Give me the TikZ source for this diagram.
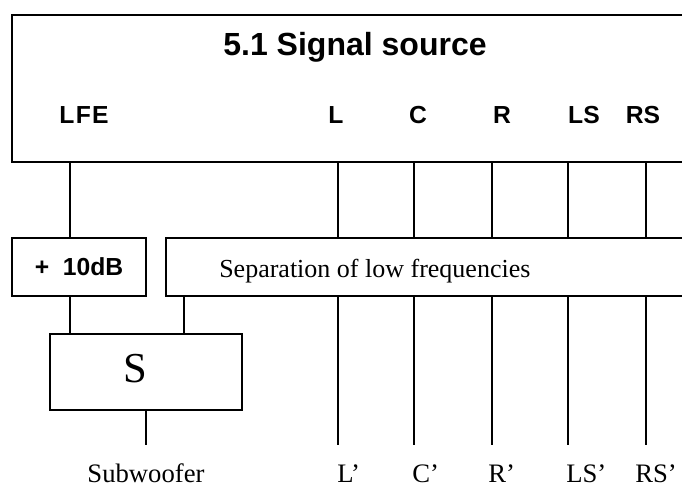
\documentclass[tikz,border=0pt]{standalone}
\usepackage{fontspec}
\setmainfont{Liberation Serif}
\newfontfamily\arialfont{Liberation Sans}
\usepackage{tikz}
\usetikzlibrary{positioning,calc}

\begin{document}
\begin{tikzpicture}[
  x=0.75pt, y=-0.75pt,
  blk/.style={draw=black, line width=1.2pt, inner sep=0pt, outer sep=0pt, rectangle},
  wire/.style={draw=black, line width=0.8pt},
  ttl/.style={font=\arialfont\bfseries\fontsize{24}{28}\selectfont, anchor=base},
  chn/.style={font=\arialfont\bfseries\fontsize{18.5}{22}\selectfont, anchor=base},
  txt/.style={font=\fontsize{20}{24}\selectfont, inner sep=0pt},
  outlbl/.style={txt, anchor=base west},
]
\useasboundingbox (0,0) rectangle (682,486);
\clip (0,0) rectangle (682,486);

% boxes
\node[blk, minimum width=516pt, minimum height=110.25pt] (src) at (356,88.5) {};
\node[blk, minimum width=100.5pt, minimum height=43.5pt, font=\arialfont\bfseries\fontsize{18.5}{22}\selectfont] (gain) at (79,267) {+\ \ 10dB};
\node[blk, minimum width=400.5pt, minimum height=43.5pt] (sep) at (433,267) {};
\node[blk, minimum width=144pt, minimum height=57pt] (sum) at (146,372) {};

% texts
\node[ttl] (title) at (355,55) {5.1 Signal source};
\node[chn] (lfe) at (84,123) {L\kern1pt F\kern1pt E};
\node[chn] (inL) at (336,123) {L};
\node[chn] (inC) at (418,123) {C};
\node[chn] (inR) at (502,123) {R};
\node[chn] (inLS) at (584,123) {LS};
\node[chn] (inRS) at (643,123) {RS};
\node[txt, anchor=base west, font=\fontsize{19.5}{24}\selectfont] (septxt) at (219,277) {Separation of low frequencies};
\node[txt, anchor=base, font=\fontsize{32}{36}\selectfont] (stxt) at (135.5,382) {S};
\node[txt, anchor=base] (sub) at (146,482) {Subwoofer};
\node[outlbl] (outL) at (337,482) {L’};
\node[outlbl] (outC) at (412,482) {C’};
\node[outlbl] (outR) at (488,482) {R’};
\node[outlbl] (outLS) at (566,482) {LS’};
\node[outlbl] (outRS) at (635,482) {RS’};

% line positions
\coordinate (xLFE) at (70,0);
\coordinate (xLow) at (184,0);
\coordinate (xSub) at (146,445);
\coordinate (endL) at (338,445);
\coordinate (endC) at (414,445);
\coordinate (endR) at (492,445);
\coordinate (endLS) at (568,445);
\coordinate (endRS) at (646,445);

% connectors
\draw[wire] (src.south -| xLFE) -- (gain.north -| xLFE);
\draw[wire] (gain.south -| xLFE) -- (sum.north -| xLFE);
\draw[wire] (sep.south -| xLow) -- (sum.north -| xLow);
\draw[wire] (sum.south -| xSub) -- (xSub);
\foreach \ch in {L,C,R,LS,RS}{
  \draw[wire] (src.south -| end\ch) -- (sep.north -| end\ch);
  \draw[wire] (sep.south -| end\ch) -- (end\ch);
}
\end{tikzpicture}
\end{document}
